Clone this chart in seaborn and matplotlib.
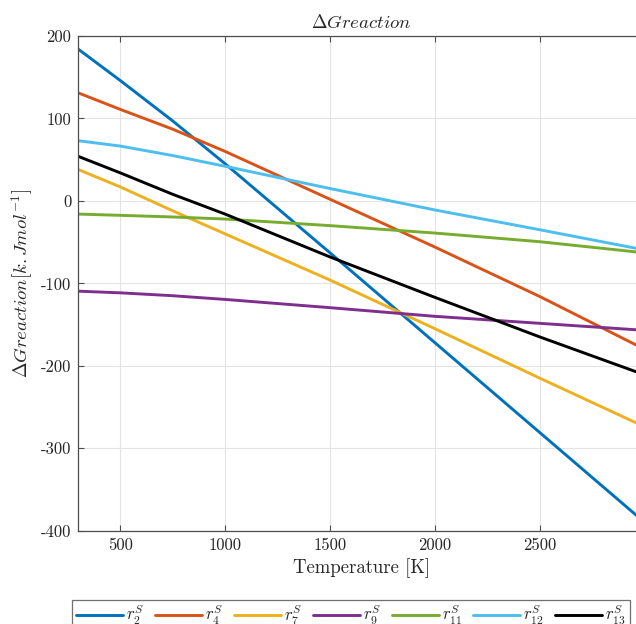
import numpy as np
import pandas as pd
import matplotlib
matplotlib.use("Agg")
import matplotlib.pyplot as plt
import seaborn as sns

# ---- data ----
temperature = [300, 500, 750, 1000, 1250, 1500, 2000, 2500, 3000]
r2 = [184, 146, 97, 45, -9, -63, -172, -281, -390]
r4 = [131, 111, 87, 60, 31, 2, -56, -116, -180]
r7 = [38, 17, -12, -40, -68, -96, -155, -215, -274]
r9 = [-109.5, -111.5, -115, -119.5, -124.5, -129.5, -140, -148.5, -157]
r11 = [-16, -17.5, -19.5, -22, -26, -30, -39, -49.5, -63]
r12 = [73, 66.5, 55, 42, 28.5, 15, -11, -35, -59.5]
r13 = [54, 34, 8, -16, -42, -68, -117, -165, -211]

series_names = [r"$r_2^S$", r"$r_4^S$", r"$r_7^S$", r"$r_9^S$",
                r"$r_{11}^S$", r"$r_{12}^S$", r"$r_{13}^S$"]
series_values = [r2, r4, r7, r9, r11, r12, r13]
x_ticks = [500, 1000, 1500, 2000, 2500]
y_ticks = [-400, -300, -200, -100, 0, 100, 200]

colors = ["#0072BD", "#D95319", "#EDB120", "#7E2F8E",
          "#77AC30", "#4DBEEE", "#000000"]

rows = []
for name, vals in zip(series_names, series_values):
    for t, v in zip(temperature, vals):
        rows.append({"T": t, "G": v, "series": name})
df = pd.DataFrame(rows)

sns.set_theme(style="white")
plt.rcParams["font.family"] = "serif"
plt.rcParams["font.serif"] = ["cmr10", "DejaVu Serif"]
plt.rcParams["mathtext.fontset"] = "cm"
plt.rcParams["axes.unicode_minus"] = False
plt.rcParams["axes.formatter.use_mathtext"] = False

W, H = 636, 624
fig = plt.figure(figsize=(W / 100, H / 100), dpi=100)
left, right, top, bottom = 78.3, 644.7, 36.0, 530.7
ax = fig.add_axes([left / W, 1 - bottom / H, (right - left) / W, (bottom - top) / H])

sns.lineplot(data=df, x="T", y="G", hue="series", palette=colors,
             hue_order=series_names, linewidth=2.1, ax=ax, legend=False,
             estimator=None, sort=True)

ax.set_xlim(300, 3000)
ax.set_ylim(-400, 200)
ax.set_xticks(x_ticks)
ax.set_yticks(y_ticks)
ax.grid(True, color="#e4e4e4", linewidth=0.8)
ax.set_axisbelow(True)

for s in ax.spines.values():
    s.set_color("#4d4d4d")
    s.set_linewidth(0.9)
ax.spines["right"].set_visible(False)

ax.tick_params(axis="both", direction="in", length=4.5, width=0.8,
               color="#4d4d4d", labelsize=12, labelcolor="#262626", pad=5)
ax.tick_params(axis="x", top=True, bottom=True)
ax.tick_params(axis="y", left=True, right=False)

ax.set_xlabel("Temperature [K]", fontsize=13.5, color="#262626", labelpad=4)
ax.set_ylabel(r"$\Delta Greaction[k.Jmol^{-1}]$", fontsize=13.5,
              color="#262626", labelpad=4)
ax.set_title(r"$\Delta Greaction$", fontsize=13.5, color="#262626", pad=6)

handles = [plt.Line2D([], [], color=c, linewidth=2.1) for c in colors]
leg = fig.legend(handles, series_names, loc="upper left",
                 bbox_to_anchor=(71.8 / W, 1 - 599.5 / H), ncol=7,
                 fontsize=12, frameon=True, fancybox=False,
                 edgecolor="#4d4d4d", borderaxespad=0, borderpad=0.25,
                 handlelength=2.8, handletextpad=0.2, columnspacing=0.65)
leg.get_frame().set_linewidth(0.9)

fig.savefig("out.png", dpi=100)
